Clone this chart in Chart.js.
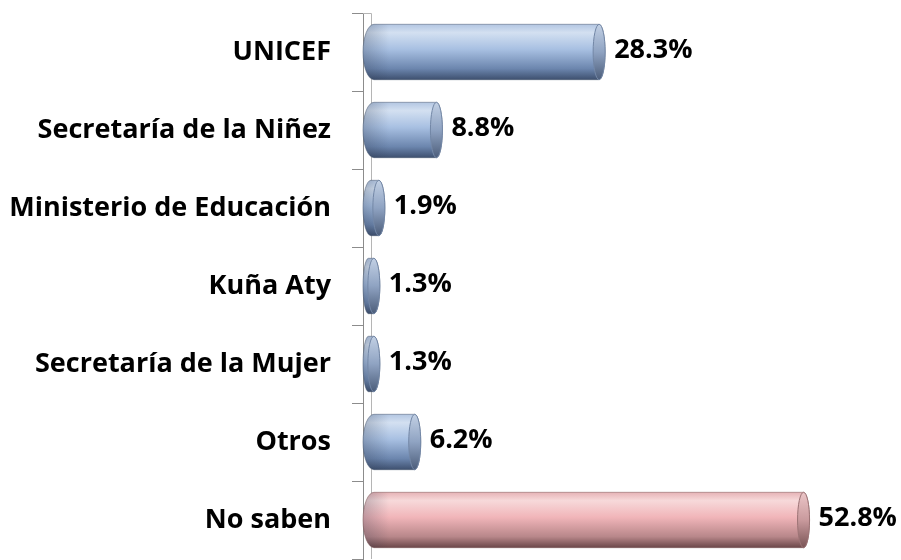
<!DOCTYPE html>
<html>
<head>
<meta charset="utf-8">
<script src="https://cdn.jsdelivr.net/npm/chart.js@4.4.1/dist/chart.umd.min.js"></script>
<style>
  body { margin: 0; background: #fff; }
  #wrap { width: 901px; height: 560px; }
</style>
</head>
<body>
<div id="wrap"><canvas id="myChart"></canvas></div>
<script>
// data
const categories = [
  "UNICEF",
  "Secretaría de la Niñez",
  "Ministerio de Educación",
  "Kuña Aty",
  "Secretaría de la Mujer",
  "Otros",
  "No saben",
];
const values = [28.3, 8.8, 1.9, 1.3, 1.3, 6.2, 52.8];
const valueLabels = ["28.3%", "8.8%", "1.9%", "1.3%", "1.3%", "6.2%", "52.8%"];
const highlighted = [false, false, false, false, false, false, true];

const FONT = "'Open Sans', Lato, sans-serif";

const blueStops = [[0, "#b3c6e2"], [0.15, "#d3e0f1"], [0.45, "#a8c0e2"], [0.8, "#6c86ae"], [1, "#3e506f"]];
const pinkStops = [[0, "#e6b3b6"], [0.15, "#f7d9da"], [0.45, "#f1b5b9"], [0.8, "#b8878a"], [1, "#6b4749"]];
const blueCap = [[0, "#c2d0e4"], [0.5, "#8fa3c2"], [1, "#4c5d7a"]];
const pinkCap = [[0, "#ecc6c8"], [0.5, "#c99a9d"], [1, "#7a5456"]];

function grad(ctx, top, bottom, stops) {
  const g = ctx.createLinearGradient(0, top, 0, bottom);
  stops.forEach(s => g.addColorStop(s[0], s[1]));
  return g;
}

// draws each bar as a lying cylinder, using the bar element geometry
const cylinders = {
  id: "cylinders",
  beforeDatasetsDraw(chart) {
    const ctx = chart.ctx;
    const a = chart.chartArea;
    ctx.save();
    ctx.strokeStyle = "#b5b5b5";
    ctx.lineWidth = 1;
    ctx.beginPath();
    ctx.moveTo(a.left, a.top + 0.5);
    ctx.lineTo(a.left + 8.5, a.top + 0.5);
    ctx.lineTo(a.left + 8.5, a.bottom);
    ctx.stroke();
    ctx.restore();
  },
  afterDatasetsDraw(chart) {
    const ctx = chart.ctx;
    const meta = chart.getDatasetMeta(0);
    meta.data.forEach((bar, i) => {
      const p = bar.getProps(["x", "y", "base", "height"], true);
      const h = p.height, cy = p.y, top = cy - h / 2, bottom = cy + h / 2;
      const x0 = p.base, x1 = p.x;
      const rl = Math.min(11, (x1 - x0) / 2);
      const rc = 6;
      const cx0 = x0 + rl;
      const hi = highlighted[i];
      ctx.save();
      ctx.beginPath();
      ctx.moveTo(cx0, top);
      ctx.lineTo(x1, top);
      ctx.ellipse(x1, cy, rc, h / 2, 0, -Math.PI / 2, Math.PI / 2);
      ctx.lineTo(cx0, bottom);
      ctx.ellipse(cx0, cy, rl, h / 2, 0, Math.PI / 2, Math.PI * 1.5);
      ctx.closePath();
      ctx.fillStyle = grad(ctx, top, bottom, hi ? pinkStops : blueStops);
      ctx.fill();
      // soft shading on the rounded left end
      const lg = ctx.createLinearGradient(x0, 0, x0 + rl * 2 + 4, 0);
      lg.addColorStop(0, "rgba(40,50,70,0.25)");
      lg.addColorStop(1, "rgba(40,50,70,0)");
      ctx.fillStyle = lg;
      ctx.fill();
      ctx.strokeStyle = hi ? "rgba(120,80,82,0.5)" : "rgba(70,85,110,0.5)";
      ctx.lineWidth = 1;
      ctx.stroke();
      // end cap
      ctx.beginPath();
      ctx.ellipse(x1, cy, rc, h / 2, 0, 0, Math.PI * 2);
      ctx.fillStyle = grad(ctx, top, bottom, hi ? pinkCap : blueCap);
      ctx.fill();
      ctx.strokeStyle = hi ? "#9c7375" : "#7387a6";
      ctx.stroke();
      // value label
      ctx.fillStyle = "#000";
      ctx.font = "bold 27px " + FONT;
      ctx.textAlign = "left";
      ctx.textBaseline = "middle";
      ctx.fillText(valueLabels[i], x1 + rc + 9, cy - 2);
      ctx.restore();
    });
  },
};

const ctx = document.getElementById("myChart");

new Chart(ctx, {
  type: "bar",
  data: {
    labels: categories,
    datasets: [
      {
        data: values,
        backgroundColor: "rgba(0,0,0,0)",
        borderWidth: 0,
        barPercentage: 0.71,
        categoryPercentage: 1,
      },
    ],
  },
  options: {
    indexAxis: "y",
    responsive: true,
    maintainAspectRatio: false,
    animation: false,
    layout: { padding: { top: 13, bottom: 1, left: 0, right: 4 } },
    plugins: { legend: { display: false }, tooltip: { enabled: false } },
    scales: {
      x: { display: false, min: 0, max: 64 },
      y: {
        afterFit: s => {
          s.width = 363;
          s.paddingTop = 0;
          s.paddingBottom = 0;
        },
        border: { display: true, color: "#8c8c8c", width: 1 },
        grid: {
          offset: true,
          drawOnChartArea: false,
          drawTicks: true,
          tickLength: 11,
          color: "#8c8c8c",
        },
        ticks: {
          color: "#000",
          padding: 21,
          font: { family: FONT, size: 27, weight: "bold" },
        },
      },
    },
  },
  plugins: [cylinders],
});
</script>
</body>
</html>
